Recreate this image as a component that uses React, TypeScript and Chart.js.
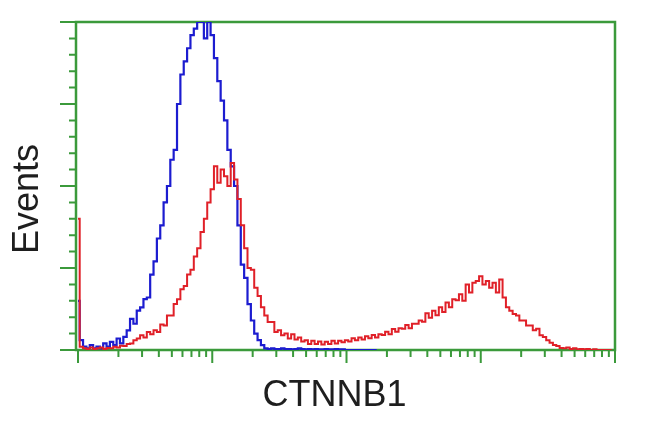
import React, { useEffect, useRef } from "react";
import { Chart, registerables } from "chart.js";

Chart.register(...registerables);

// Histogram bins: 40 bins per log decade, 4 decades (bin index -> decade position)
const binsPerDecade = 40;
const decades = [0, 1, 2, 3, 4];
const minorSteps = [2, 3, 4, 5, 6, 7, 8, 9];
const yMajorTicks = [0, 25, 50, 75, 100];
const yMinorTicks = [5, 10, 15, 20, 30, 35, 40, 45, 55, 60, 65, 70, 80, 85, 90, 95];

const xLabel = "CTNNB1";
const yLabel = "Events";

const blueCounts = [
  15, 3, 1, 0.5, 1.5, 0.5, 1, 0.5, 2, 1,
  2.5, 1.5, 3.5, 2, 4, 6, 9.5, 8, 12, 13,
  15.5, 16, 23, 27, 34, 38, 45, 50, 58, 61,
  75, 84, 88, 92, 96, 98, 100, 100, 95, 100,
  96, 89, 82, 76, 70, 61, 56, 50, 38, 26,
  22, 14, 9, 5, 3, 1.5, 0.5, 0.3, 0.5, 0.3,
  0.3, 0.5, 0.3, 0.3, 0.2, 0.3, 0.5, 0.3, 0.2, 0.3,
  0.2, 0.3, 0.2, 0.2, 0.3, 0.2, 0.2, 0.3, 0.2, 0.2,
  0, 0, 0, 0, 0, 0, 0, 0, 0, 0,
];

const redCounts = [
  40, 1, 0.5, 0.3, 0.8, 0.3, 0.5, 0.8, 0.3, 0.6,
  0.5, 1, 0.8, 1.3, 1.2, 1.8, 2, 3, 3.5, 4.5,
  3.8, 5.5, 4.8, 6, 5.5, 7.8, 7.5, 10.5, 10.5, 14,
  15.5, 18.5, 19.5, 23, 24.5, 28.5, 31, 36, 40, 45,
  49, 56, 51, 55, 53, 50, 57, 52, 46, 38,
  31, 25, 24.5, 19, 16.5, 13, 10.5, 8.5, 8.5, 5.5,
  6, 4.5, 5, 3.5, 4.8, 3.2, 3.8, 2.6, 3, 1.8,
  2.8, 1.8, 2.6, 1.7, 2.5, 1.8, 2.8, 2, 2.8, 2.4,
  3, 2.6, 3.6, 3, 3.8, 3.2, 4.2, 3.6, 4.6, 3.8,
  4.8, 4.6, 5.6, 4.8, 6.4, 5.6, 6.6, 6.5, 7.6, 6.6,
  8, 8, 9, 8.6, 11.2, 9.8, 12, 10.6, 13, 11.6,
  14.5, 13, 15.5, 15.2, 17, 15, 20, 17.5, 20.5, 21,
  22.5, 20, 21, 19, 20.5, 17.5, 21.5, 16, 13, 12,
  11, 10.5, 9, 9, 7.5, 7.5, 6, 6.5, 4.5, 4,
  3, 2.2, 1.5, 1.2, 0.6, 0.5, 0.8, 0.3, 0.5, 0.2,
  0.3, 0.2, 0.3, 0, 0.2, 0, 0, 0, 0, 0,
];

const GREEN = "#3b9a3b";

const axesPlugin = {
  id: "flowAxes",
  beforeDatasetsDraw(chart: any) {
    const ctx = chart.ctx as CanvasRenderingContext2D;
    const { left, right, top, bottom } = chart.chartArea;
    const xs = chart.scales.x;
    const ys = chart.scales.y;
    ctx.save();
    ctx.strokeStyle = GREEN;
    ctx.lineCap = "butt";
    // box
    ctx.lineWidth = 2.5;
    ctx.beginPath();
    ctx.moveTo(left, top);
    ctx.lineTo(right, top);
    ctx.lineTo(right, bottom);
    ctx.lineTo(left, bottom);
    ctx.closePath();
    ctx.stroke();
    // y ticks
    ctx.lineWidth = 2;
    ctx.beginPath();
    for (const v of yMajorTicks) {
      const y = ys.getPixelForValue(v);
      ctx.moveTo(left - 16, y);
      ctx.lineTo(left, y);
    }
    for (const v of yMinorTicks) {
      const y = ys.getPixelForValue(v);
      ctx.moveTo(left - 7, y);
      ctx.lineTo(left, y);
    }
    // x ticks
    for (const d of decades) {
      const x = xs.getPixelForValue(d);
      ctx.moveTo(x, bottom);
      ctx.lineTo(x, bottom + 13);
    }
    for (const d of decades.slice(0, -1)) {
      for (const m of minorSteps) {
        const x = xs.getPixelForValue(d + Math.log10(m));
        ctx.moveTo(x, bottom);
        ctx.lineTo(x, bottom + 7);
      }
    }
    ctx.stroke();
    // labels
    ctx.fillStyle = "#1e1e1e";
    ctx.font = '36px "Liberation Sans", Arial, sans-serif';
    ctx.textAlign = "center";
    ctx.textBaseline = "alphabetic";
    ctx.fillText(xLabel, (left + right) / 2 - 11, 406);
    ctx.translate(38, 199);
    ctx.rotate(-Math.PI / 2);
    ctx.fillText(yLabel, 0, 0);
    ctx.restore();
  },
};

export default function App() {
  const ref = useRef<HTMLCanvasElement | null>(null);
  useEffect(() => {
    if (!ref.current) return;
    const toPts = (arr: number[]) =>
      arr.map((v, i) => ({ x: i / binsPerDecade, y: v }));
    const chart = new Chart(ref.current, {
      type: "line",
      data: {
        datasets: [
          {
            label: "CTNNB1",
            data: toPts(redCounts),
            borderColor: "#e02028",
            borderWidth: 2,
            pointRadius: 0,
            stepped: "middle",
            fill: false,
          },
          {
            label: "Control",
            data: toPts(blueCounts),
            borderColor: "#1c1cd0",
            borderWidth: 2.2,
            pointRadius: 0,
            stepped: "middle",
            fill: false,
          },
        ],
      },
      options: {
        responsive: false,
        animation: false,
        layout: { padding: { left: 76, right: 35, top: 22, bottom: 82 } },
        plugins: { legend: { display: false }, tooltip: { enabled: false } },
        scales: {
          x: { type: "linear", min: -0.015, max: 4, display: false },
          y: { type: "linear", min: 0, max: 100, display: false },
        },
      },
      plugins: [axesPlugin],
    });
    return () => chart.destroy();
  }, []);
  return (
    <div style={{ position: "fixed", left: 0, top: 0, width: 650, height: 432, background: "#fff" }}>
      <canvas ref={ref} width={650} height={432} />
    </div>
  );
}
